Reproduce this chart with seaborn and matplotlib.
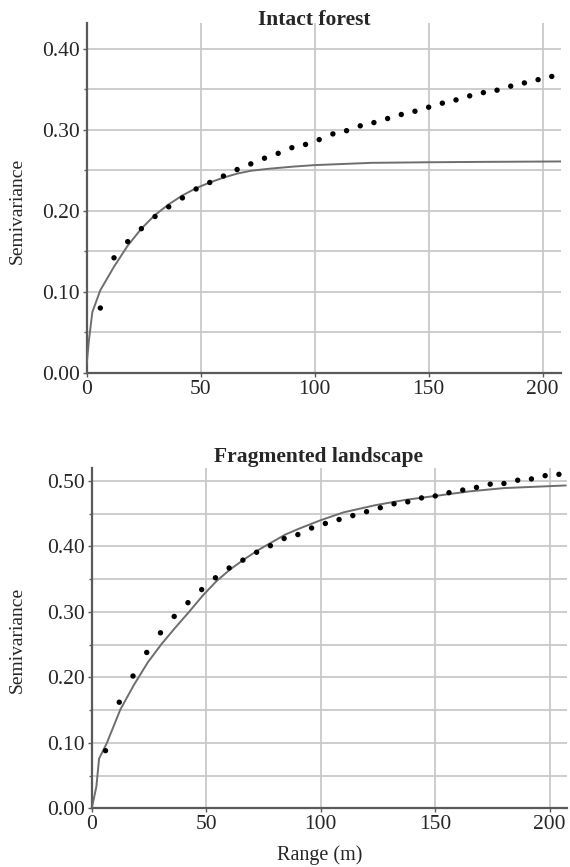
import numpy as np
import pandas as pd
import matplotlib
matplotlib.use("Agg")
import matplotlib.pyplot as plt
from matplotlib.ticker import MultipleLocator, FormatStrFormatter
import seaborn as sns

sns.set_theme(style="whitegrid")
plt.rcParams["font.family"] = ["Liberation Serif", "DejaVu Serif"]

# Lag distances (m) of the empirical semivariogram points
lags = [6, 12, 18, 24, 30, 36, 42, 48, 54, 60, 66, 72, 78, 84, 90, 96, 102,
        108, 114, 120, 126, 132, 138, 144, 150, 156, 162, 168, 174, 180, 186,
        192, 198, 204]

# Intact forest
intact_points = [0.080, 0.142, 0.162, 0.178, 0.193, 0.205, 0.216, 0.227, 0.235,
                 0.243, 0.251, 0.258, 0.265, 0.271, 0.278, 0.282, 0.288, 0.295,
                 0.299, 0.305, 0.309, 0.314, 0.319, 0.323, 0.328, 0.333, 0.337,
                 0.342, 0.346, 0.349, 0.354, 0.358, 0.362, 0.366]
intact_model_x = [0, 1, 2.5, 6, 12, 18, 24, 30, 36, 42, 48, 54, 60, 66, 72, 80,
                  90, 100, 125, 150, 175, 208]
intact_model_y = [0.010, 0.040, 0.075, 0.102, 0.131, 0.157, 0.178, 0.195, 0.208,
                  0.219, 0.228, 0.235, 0.241, 0.246, 0.2495, 0.252, 0.2545,
                  0.2565, 0.2593, 0.260, 0.2605, 0.261]

# Fragmented landscape
frag_points = [0.088, 0.162, 0.202, 0.238, 0.268, 0.293, 0.314, 0.334, 0.352,
               0.367, 0.379, 0.391, 0.401, 0.412, 0.418, 0.428, 0.435, 0.441,
               0.447, 0.453, 0.459, 0.465, 0.468, 0.474, 0.477, 0.482, 0.486,
               0.490, 0.495, 0.496, 0.501, 0.503, 0.508, 0.510]
frag_model_x = [0, 2, 3.2, 6.5, 12.5, 18.5, 24.5, 30.5, 36.5, 42.5, 48.5, 54.5,
                60.5, 66.5, 72.5, 78.5, 84.5, 90.5, 100, 110, 124, 137, 150,
                165, 180, 207]
frag_model_y = [0.0, 0.033, 0.076, 0.099, 0.151, 0.189, 0.223, 0.251, 0.276,
                0.300, 0.325, 0.347, 0.365, 0.380, 0.394, 0.406, 0.418, 0.427,
                0.440, 0.452, 0.463, 0.471, 0.477, 0.484, 0.489, 0.493]

panels = [
    ("Intact forest", intact_points, intact_model_x, intact_model_y,
     [0.152, 0.570, 0.832, 0.4035], (0, 208), (0, 0.432), 0.551, 0.977,
     (-0.128, 0.462)),
    ("Fragmented landscape", frag_points, frag_model_x, frag_model_y,
     [0.161, 0.0677, 0.834, 0.392], (0, 207.6), (0, 0.519), 0.558, 0.473,
     (-0.138, 0.495)),
]

fig = plt.figure(figsize=(5.7, 8.67), dpi=100)
spine_col = "#5a5a5a"
grid_col = "#c9c9c9"

for i, (title, pts, mx, my, rect, xl, yl, tx, ty, ylab_xy) in enumerate(panels):
    ax = fig.add_axes(rect)
    pts_df = pd.DataFrame({"lag": lags, "gamma": pts})
    model_df = pd.DataFrame({"lag": mx, "gamma": my})
    sns.lineplot(data=model_df, x="lag", y="gamma", ax=ax, color="#6e6e6e",
                 linewidth=1.4, zorder=3)
    sns.scatterplot(data=pts_df, x="lag", y="gamma", ax=ax, color="black",
                    s=15, edgecolor="none", zorder=4)
    ax.set_xlim(*xl)
    ax.set_ylim(*yl)
    ax.xaxis.set_major_locator(MultipleLocator(50))
    ax.yaxis.set_major_locator(MultipleLocator(0.1))
    ax.yaxis.set_minor_locator(MultipleLocator(0.05))
    ax.yaxis.set_major_formatter(FormatStrFormatter("%.2f"))
    ax.grid(True, which="both", color=grid_col, linewidth=1.3)
    ax.set_facecolor("white")
    for side in ["top", "right"]:
        ax.spines[side].set_visible(False)
    for side in ["left", "bottom"]:
        ax.spines[side].set_color(spine_col)
        ax.spines[side].set_linewidth(1.6)
    ax.tick_params(axis="both", which="major", length=3, width=1,
                   color=spine_col, labelsize=15.5, pad=2, direction="out",
                   left=True, bottom=True)
    ax.tick_params(axis="y", which="minor", length=2, width=1, color=spine_col,
                   left=True)
    ax.set_ylabel("Semivariance", fontsize=14)
    ax.yaxis.set_label_coords(*ylab_xy)
    if i == 1:
        ax.set_xlabel("Range (m)", fontsize=14.5)
        ax.xaxis.set_label_coords(0.48, -0.108)
    else:
        ax.set_xlabel("")
    fig.text(tx, ty, title, fontsize=15.5, fontweight="bold", ha="center",
             va="center")

fig.savefig("out.png", dpi=100)
